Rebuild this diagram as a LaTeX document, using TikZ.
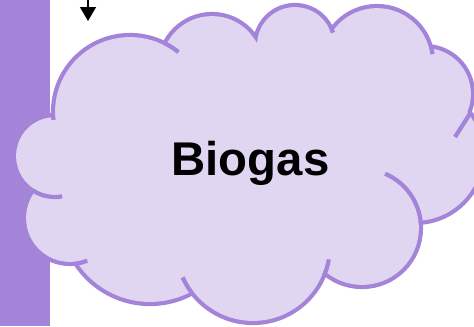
\documentclass[tikz,border=0pt]{standalone}
\usepackage{fontspec}
\setmainfont{Liberation Sans}
\usetikzlibrary{arrows.meta}
\definecolor{lav}{HTML}{A384D8}
\definecolor{lavfill}{HTML}{E0D6F2}
\tikzset{
  ring/.style={draw=lav, line width=6.3pt},
  lobefill/.style={fill=lavfill},
  tk/.style={draw=lav, line width=3.15pt},
  bar/.style={fill=lav},
  arr/.style={draw=black, line width=1.1pt, -{Triangle[width=12pt,length=10.5pt]}},
  label/.style={font=\bfseries\fontsize{35.5}{40}\selectfont, inner sep=0pt, anchor=base}
}
\newcommand{\lobelist}{130/112/77, 212/67/53, 295/45/40, 377/62/56, 425/94/48, 415/154/69, 362/228/59, 253/246/77, 150/215/89, 70/218/46, 55/156/41}
\newcommand{\mytick}[5]{\draw[tk] (#1,#2) ++(#4:{#3*0.75pt}) arc[start angle=#4, end angle=#5, radius={#3*0.75pt}];}
\begin{document}
\begin{tikzpicture}[x=0.75pt,y=-0.75pt]
\useasboundingbox (0,0) rectangle (474,326);
\fill[bar] (0,0) rectangle (50,326);
\coordinate (as) at (88,-2);
\coordinate (ae) at (88,21);
\draw[arr] (as) -- (ae);
\begin{scope}
\clip (0,0) rectangle (474,326);
\foreach \cx/\cy/\r in \lobelist
  \draw[ring] (\cx,\cy) circle[radius={(\r-2.1)*0.75pt}];
\foreach \cx/\cy/\r in \lobelist
  \fill[lobefill] (\cx,\cy) circle[radius={(\r-2.1)*0.75pt}];
\fill[lobefill] (130,112)--(212,67)--(295,45)--(377,62)--(425,94)--(415,154)--(362,228)--(253,246)--(150,215)--(70,218)--(55,156)--cycle;
\mytick{130}{112}{77}{63}{51}
\mytick{130}{112}{77}{180}{186}
\mytick{212}{67}{53}{40}{33}
\mytick{295}{45}{40}{26}{18}
\mytick{377}{62}{56}{15}{8}
\draw[tk] (471,112) -- (455,137);
\mytick{362}{228}{59}{5}{67}
\mytick{253}{246}{77}{-23}{-10}
\mytick{253}{246}{77}{-143}{-156}
\mytick{70}{218}{46}{-84}{-68}
\mytick{55}{156}{41}{-123}{-80}
\end{scope}
\node[label] (t) at (250.5,175) {Biogas};
\end{tikzpicture}
\end{document}
